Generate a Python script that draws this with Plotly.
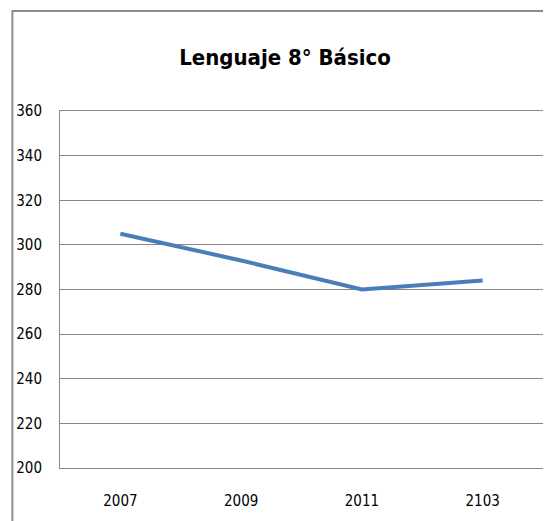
import plotly.graph_objects as go

categories = ["2007", "2009", "2011", "2103"]
values = [305, 293, 280, 284]
y_ticks = [200, 220, 240, 260, 280, 300, 320, 340, 360]

# page body has an 8px margin; figure starts at (8, 8)
OFF = 8
W, H = 551 - OFF, 521 - OFF
L, R, T, B = 56 - OFF, 8, 111 - OFF, 53
pw = W - L - R
ph = H - T - B

FONT = "DejaVu Sans Condensed, Liberation Sans Narrow, sans-serif"

fig = go.Figure()
fig.add_trace(go.Scatter(
    x=categories, y=values, mode="lines",
    line=dict(color="#4A7EBB", width=4),
    showlegend=False, hoverinfo="skip",
))

fig.update_layout(
    width=W, height=H,
    margin=dict(l=L, r=R, t=T, b=B),
    paper_bgcolor="white", plot_bgcolor="white",
    title=dict(
        text="<b>Lenguaje 8° Básico</b>",
        font=dict(family=FONT, size=22, color="black"),
        x=(285 - OFF) / W, xanchor="center", xref="container",
        y=1 - (57 - OFF) / H, yanchor="middle", yref="container",
    ),
    xaxis=dict(
        type="category", range=[-0.5, 3.5],
        showgrid=False, showline=True, mirror=True,
        linecolor="#868686", linewidth=1, zeroline=False,
        ticks="", tickfont=dict(family=FONT, size=15, color="black"),
        ticklabelstandoff=19,
    ),
    yaxis=dict(
        range=[200, 360], tickvals=y_ticks,
        showgrid=True, gridcolor="#868686", gridwidth=1,
        showline=True, linecolor="#868686", linewidth=1,
        zeroline=False, ticks="",
        tickfont=dict(family=FONT, size=15, color="black"),
        ticklabelstandoff=14,
    ),
    shapes=[dict(
        type="rect", xref="paper", yref="paper",
        x0=(8 - 56) / pw, x1=(560 - 56) / pw,
        y0=-(540 - 468) / ph, y1=(468 - 11) / ph,
        line=dict(color="#8C8C8C", width=2), fillcolor="rgba(0,0,0,0)",
        layer="below",
    )],
)

fig.write_html("out.html")
